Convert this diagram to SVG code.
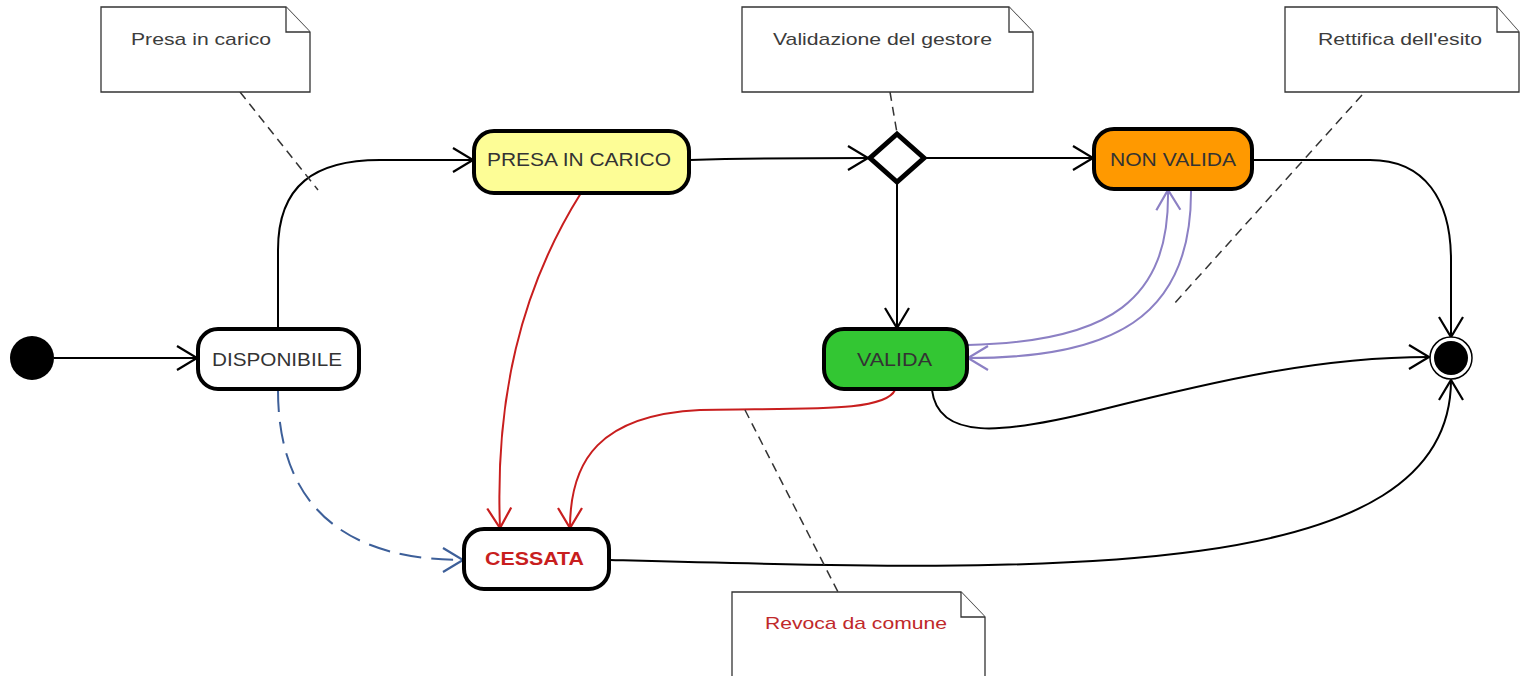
<svg xmlns="http://www.w3.org/2000/svg" width="1520" height="676" viewBox="0 0 1520 676">
<defs>
<marker id="ab" markerUnits="userSpaceOnUse" markerWidth="30" markerHeight="30" viewBox="-22 -15 24 30" refX="0" refY="0" orient="auto"><path d="M-20,-12 L0,0 L-20,12" fill="none" stroke="#000" stroke-width="2.2"/></marker>
<marker id="ar" markerUnits="userSpaceOnUse" markerWidth="30" markerHeight="30" viewBox="-22 -15 24 30" refX="0" refY="0" orient="auto"><path d="M-20,-12 L0,0 L-20,12" fill="none" stroke="#c81e1e" stroke-width="2.2"/></marker>
<marker id="abl" markerUnits="userSpaceOnUse" markerWidth="30" markerHeight="30" viewBox="-22 -15 24 30" refX="0" refY="0" orient="auto"><path d="M-20,-12 L0,0 L-20,12" fill="none" stroke="#3d5f99" stroke-width="2.2"/></marker>
<marker id="ap" markerUnits="userSpaceOnUse" markerWidth="30" markerHeight="30" viewBox="-22 -15 24 30" refX="0" refY="0" orient="auto"><path d="M-20,-12 L0,0 L-20,12" fill="none" stroke="#8c80c4" stroke-width="2.2"/></marker>
</defs>
<style>
.node{stroke:#000;stroke-width:4}
.lbl{font-family:"Liberation Sans",Arial,sans-serif;font-size:18px;fill:#333}
.note{fill:#fff;stroke:#333;stroke-width:1.3}
.ntxt{font-family:"Liberation Sans",Arial,sans-serif;font-size:17px;fill:#3c3c3c}
.c{fill:none;stroke:#000;stroke-width:2}
.red{fill:none;stroke:#c81e1e;stroke-width:2}
.pur{fill:none;stroke:#8c80c4;stroke-width:2}
.blue{fill:none;stroke:#3d5f99;stroke-width:2;stroke-dasharray:22 10}
.anc{fill:none;stroke:#333;stroke-width:1.5;stroke-dasharray:9 6}
</style>
<rect width="1520" height="676" fill="#fff"/>
<g id="connectors">
<path class="c" d="M54,358 H197" marker-end="url(#ab)"/>
<path class="c" d="M278,328 V250 C278,185 315,160 380,160 H473" marker-end="url(#ab)"/>
<path class="c" d="M690,160 C760,158 800,158 868,158" marker-end="url(#ab)"/>
<path class="c" d="M926,158 H1093" marker-end="url(#ab)"/>
<path class="c" d="M897,184 V328" marker-end="url(#ab)"/>
<path class="c" d="M1253,160 H1370 C1425,160 1451,200 1451,260 V337" marker-end="url(#ab)"/>
<path class="pur" d="M968,345 C1110,342 1170,300 1168,190" marker-end="url(#ap)"/>
<path class="pur" d="M1191,190 C1192,320 1110,358 968,358" marker-end="url(#ap)"/>
<path class="c" d="M932,390 C938,440 1000,435 1100,410 C1220,380 1320,357 1429,357" marker-end="url(#ab)"/>
<path class="red" d="M581,193 C520,290 495,400 500,528" marker-end="url(#ar)"/>
<path class="red" d="M895,390 C885,412 810,408 700,410 C600,415 570,460 570,528" marker-end="url(#ar)"/>
<path class="blue" d="M278,390 C278,470 310,560 463,560" marker-end="url(#abl)"/>
<path class="c" d="M610,560 C1050,572 1451,585 1451,380" marker-end="url(#ab)"/>
<path class="anc" d="M240,92 L318,190"/>
<path class="anc" d="M890,92 L897,133"/>
<path class="anc" d="M1362,95 L1173,305"/>
<path class="anc" d="M745,410 L838,592"/>
</g>
<g id="note-presa">
<path class="note" d="M101,7 H286 L310,32 V92 H101 Z"/><path class="note" d="M286,7 V32 H310"/>
<text class="ntxt" x="131" y="45" textLength="140" lengthAdjust="spacingAndGlyphs">Presa in carico</text>
</g>
<g id="note-validazione">
<path class="note" d="M742,7 H1009 L1033,32 V92 H742 Z"/><path class="note" d="M1009,7 V32 H1033"/>
<text class="ntxt" x="773" y="45" textLength="219" lengthAdjust="spacingAndGlyphs">Validazione del gestore</text>
</g>
<g id="note-rettifica">
<path class="note" d="M1285,7 H1497 L1519,32 V92 H1285 Z"/><path class="note" d="M1497,7 V32 H1519"/>
<text class="ntxt" x="1318" y="45" textLength="164" lengthAdjust="spacingAndGlyphs">Rettifica dell'esito</text>
</g>
<g id="note-revoca">
<path class="note" d="M732,592 H961 L985,617 V680 H732 Z"/><path class="note" d="M961,592 V617 H985"/>
<text class="ntxt" x="765" y="629" textLength="182" lengthAdjust="spacingAndGlyphs" style="fill:#c0282a">Revoca da comune</text>
</g>
<g id="initial"><circle cx="32" cy="358" r="22" fill="#000"/></g>
<g id="disponibile"><rect class="node" x="198" y="329" width="161" height="60" rx="20" fill="#fff"/><text class="lbl" x="212" y="366" textLength="130" lengthAdjust="spacingAndGlyphs">DISPONIBILE</text></g>
<g id="presa"><rect class="node" x="474" y="131" width="215" height="62" rx="20" fill="#fdfd96"/><text class="lbl" x="487" y="166" textLength="184" lengthAdjust="spacingAndGlyphs">PRESA IN CARICO</text></g>
<g id="decision"><path d="M897,134 L924,158 L897,182 L870,158 Z" fill="#fff" stroke="#000" stroke-width="5"/></g>
<g id="nonvalida"><rect class="node" x="1094" y="129" width="158" height="60" rx="20" fill="#ff9900"/><text class="lbl" x="1110" y="166" textLength="126" lengthAdjust="spacingAndGlyphs">NON VALIDA</text></g>
<g id="valida"><rect class="node" x="824" y="329" width="143" height="60" rx="20" fill="#33c633"/><text class="lbl" x="857" y="366" textLength="75" lengthAdjust="spacingAndGlyphs">VALIDA</text></g>
<g id="cessata"><rect class="node" x="464" y="529" width="145" height="60" rx="20" fill="#fff"/><text class="lbl" x="485" y="565" textLength="99" lengthAdjust="spacingAndGlyphs" style="fill:#c81e1e;font-weight:bold">CESSATA</text></g>
<g id="final"><circle cx="1451" cy="358" r="21" fill="#fff" stroke="#000" stroke-width="1.5"/><circle cx="1451" cy="358" r="17" fill="#000"/></g>
</svg>
